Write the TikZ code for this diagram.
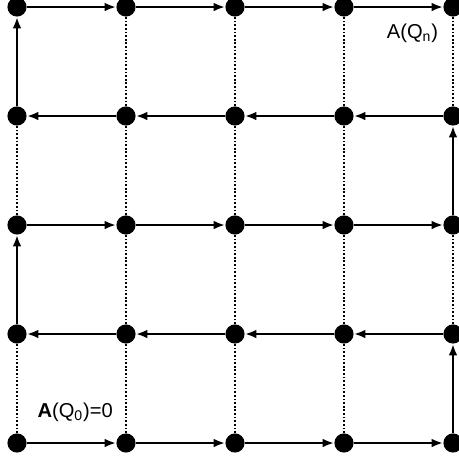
\documentclass[tikz,border=0pt]{standalone}
\usepackage{fontspec}
\setmainfont{Liberation Sans}
\usetikzlibrary{arrows.meta}
\tikzset{
  dot/.style={circle,fill=black,inner sep=0pt,minimum size=10pt},
  walk/.style={line width=1.5pt,-{Latex[length=6pt,width=4.6pt]}},
  gridline/.style={densely dotted,line width=0.9pt},
  label/.style={anchor=base west,inner sep=0pt,font=\fontsize{10.5}{12}\selectfont}
}
\begin{document}
\begin{tikzpicture}
    \useasboundingbox (-0.312,-0.330) rectangle (8.093,8.129);

    % Dots
    \foreach \i in {0,...,4}
        \foreach \j in {0,...,4}
            \node[dot] (p\i\j) at (2*\i,2*\j) {};

    % Dotted lines
    \foreach \i in {1,2,3}
        \foreach \j/\k in {0/1,1/2,2/3,3/4}
            \draw[gridline] (p\i\j) -- (p\i\k);
    \draw[gridline] (p00) -- (p01);
    \draw[gridline] (p02) -- (p03);
    \draw[gridline] (p41) -- (p42);
    \draw[gridline] (p43) -- (p44);

    % Rows to the right
    \foreach \j in {0,2,4}
        \foreach \i/\k in {0/1,1/2,2/3,3/4}
            \draw[walk] (p\i\j) -- (p\k\j);

    % Rows to the left
    \foreach \j in {1,3}
        \foreach \i/\k in {0/1,1/2,2/3,3/4}
            \draw[walk] (p\k\j) -- (p\i\j);

    % Steps up
    \draw[walk] (p40) -- (p41);
    \draw[walk] (p01) -- (p02);
    \draw[walk] (p42) -- (p43);
    \draw[walk] (p03) -- (p04);

    % Labels
    \node[label] (an) at (6.78,7.43) {A(Q\textsubscript{n})};
    \node[label] (a0) at (0.37,0.477) {\textbf{A}(Q\textsubscript{0})=0};
\end{tikzpicture}
\end{document}
